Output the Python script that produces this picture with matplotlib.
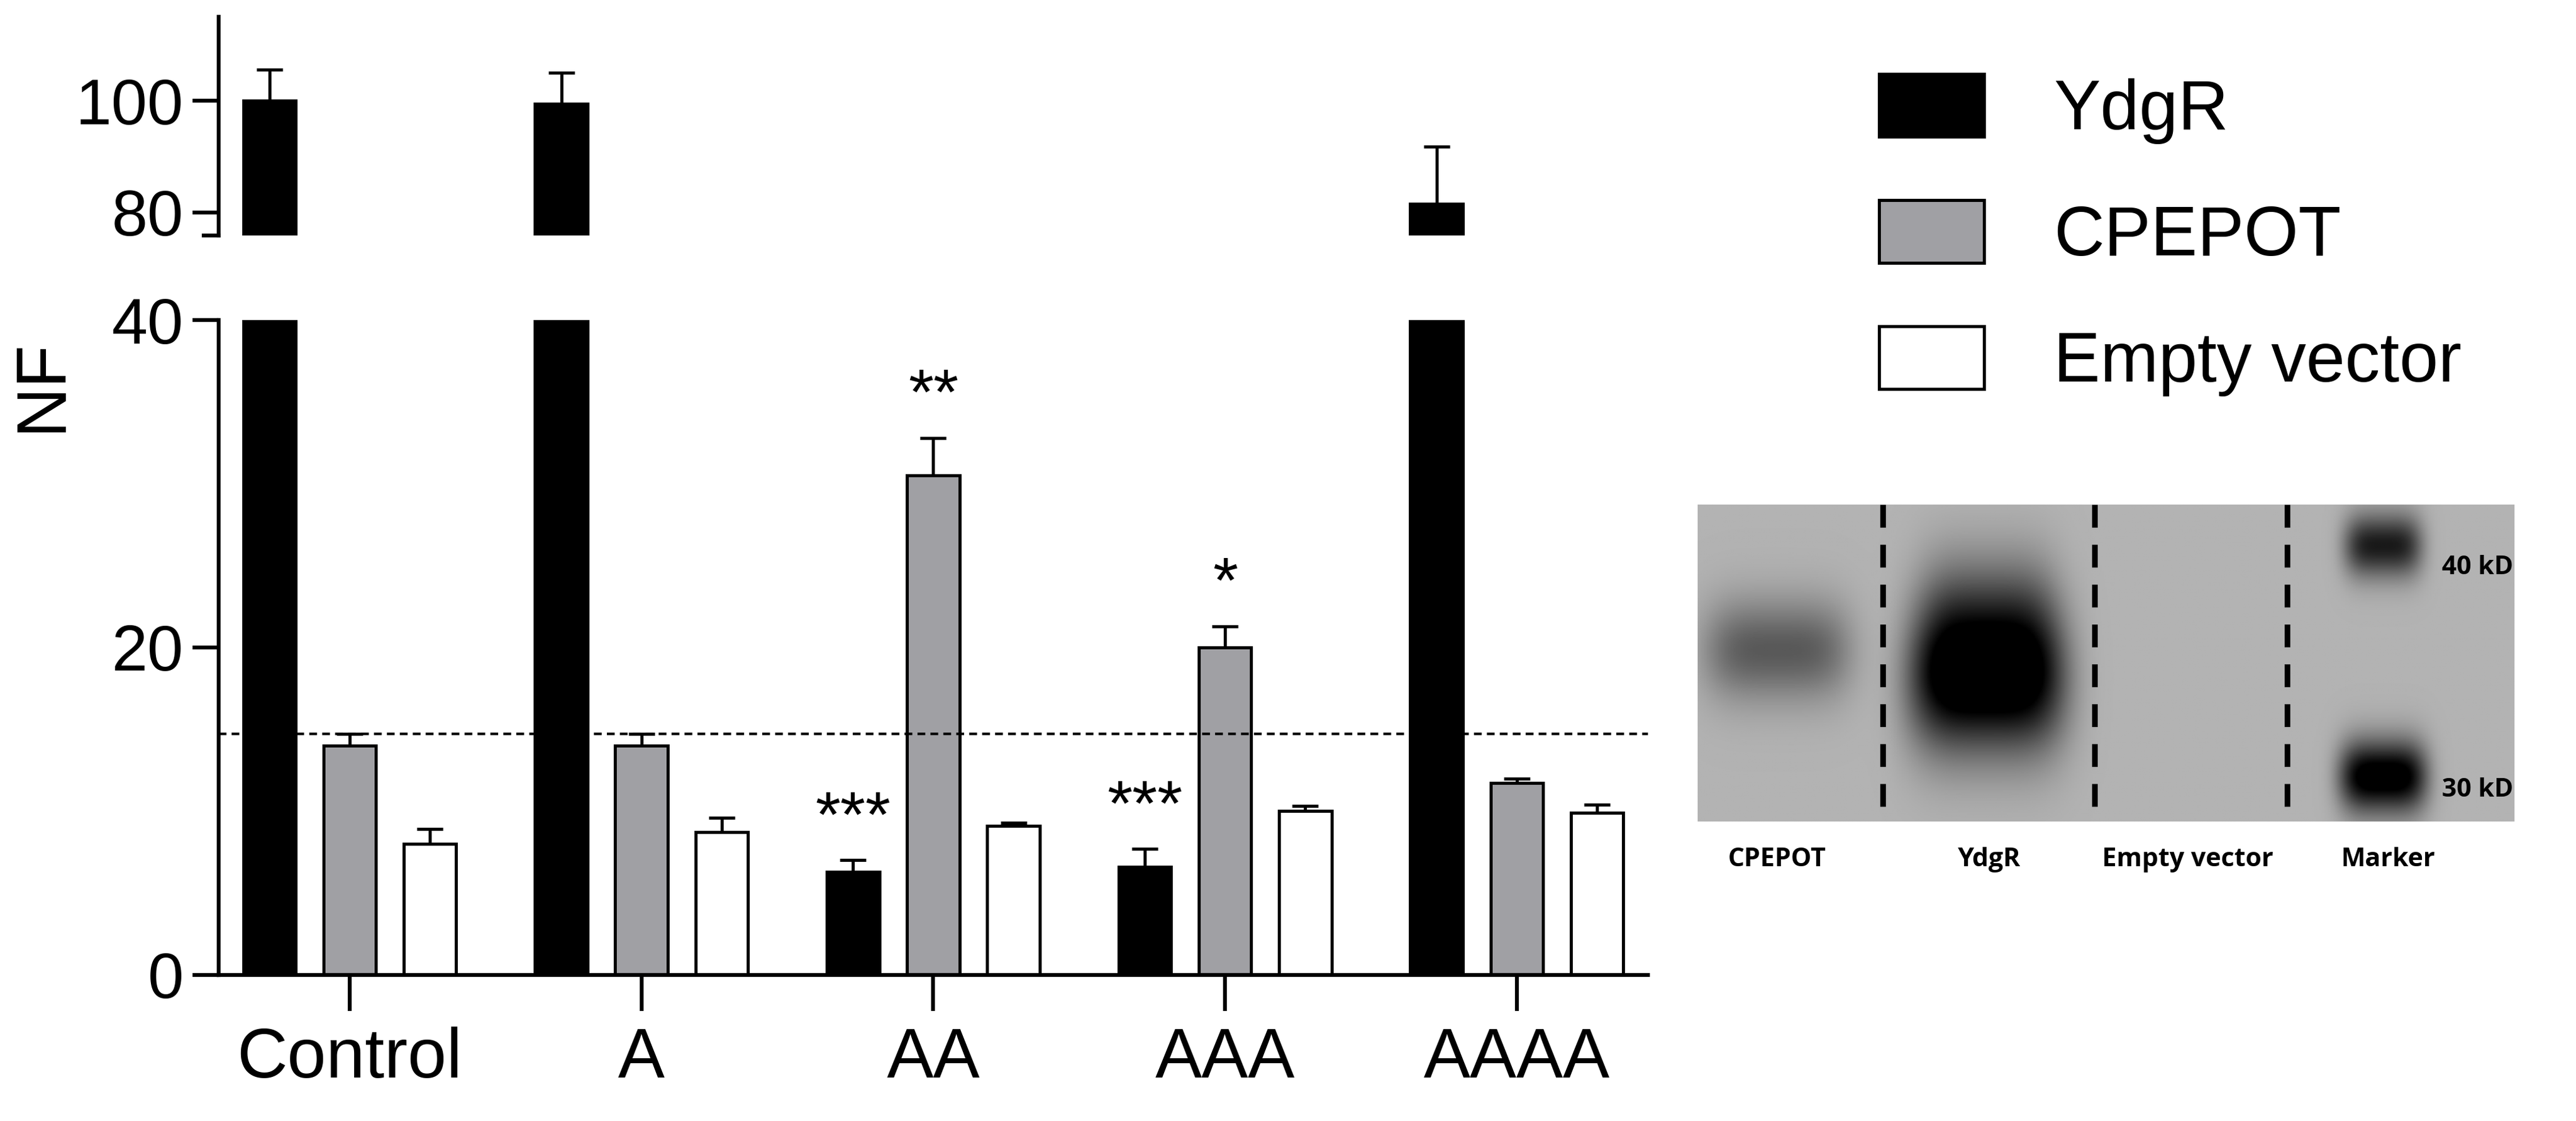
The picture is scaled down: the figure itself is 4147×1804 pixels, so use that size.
import numpy as np
import matplotlib.pyplot as plt
from matplotlib.patches import Patch

plt.rcParams["font.family"] = ["Liberation Sans", "DejaVu Sans"]

groups = ["Control", "A", "AA", "AAA", "AAAA"]
series = ["YdgR", "CPEPOT", "Empty vector"]
colors = ["black", "#a0a0a4", "white"]
ydgr = [100, 99.5, 6.3, 6.6, 81.5]
ydgr_err = [5.6, 5.5, 0.7, 1.1, 10.3]
cpepot = [14.0, 14.0, 30.5, 20.0, 11.7]
cpepot_err = [0.7, 0.7, 2.3, 1.3, 0.3]
empty = [8.0, 8.7, 9.1, 10.0, 9.9]
empty_err = [0.9, 0.9, 0.2, 0.3, 0.5]
threshold = 14.7
# (group index, series index, text)
stars = [(2, 0, "***"), (2, 1, "**"), (3, 0, "***"), (3, 1, "*")]

values = [ydgr, cpepot, empty]
errors = [ydgr_err, cpepot_err, empty_err]

fig = plt.figure(figsize=(4147 / 300, 1804 / 300), dpi=300)
ax_top = fig.add_axes([0.0848, 0.790, 0.555, 0.195])
ax_bot = fig.add_axes([0.0848, 0.1305, 0.555, 0.584])

x = np.arange(len(groups))
w = 0.18
offsets = [-0.275, 0, 0.275]
for ax in (ax_top, ax_bot):
    for vals, errs, c, off in zip(values, errors, colors, offsets):
        ax.bar(x + off, vals, w, color=c, edgecolor="black", linewidth=1.2,
               yerr=[np.zeros(len(errs)), errs], capsize=5,
               error_kw=dict(elinewidth=1.2, capthick=1.2))
    ax.set_xlim(-0.45, 4.45)
    for s in ("top", "right"):
        ax.spines[s].set_visible(False)
    ax.spines["left"].set_linewidth(1.5)
    ax.tick_params(axis="y", labelsize=25, width=1.5, length=10)

ax_top.set_ylim(75.9, 115)
ax_top.set_yticks([80, 100])
ax_top.spines["bottom"].set_visible(False)
ax_top.set_xticks([])
ax_top.plot([-0.5, -0.45], [75.9, 75.9], color="black", lw=1.5, clip_on=False)

ax_bot.set_ylim(0, 40)
ax_bot.set_yticks([0, 20, 40])
ax_bot.set_xticks(x)
ax_bot.set_xticklabels(groups, fontsize=27)
ax_bot.tick_params(axis="x", width=1.5, length=14, pad=6)
ax_bot.spines["bottom"].set_linewidth(1.5)
ax_bot.set_ylabel("NF", fontsize=27, labelpad=8)
ax_bot.yaxis.set_label_coords(-0.1, 0.9)
ax_bot.axhline(threshold, color="black", ls=(0, (3, 2)), lw=1.0)

for gi, si, txt in stars:
    top = values[si][gi] + errors[si][gi]
    ax_bot.text(x[gi] + offsets[si], top + 0.6, txt, ha="center", va="bottom",
                fontsize=25)

handles = [Patch(facecolor=c, edgecolor="black", linewidth=1.2) for c in colors]
fig.legend(handles, series, loc="upper left", bbox_to_anchor=(0.705, 0.99),
           frameon=False, fontsize=27, handlelength=1.5, handleheight=1.0,
           labelspacing=0.8, handletextpad=1.0)

# western blot panel
ax_b = fig.add_axes([0.659, 0.267, 0.317, 0.283])
yy, xx = np.mgrid[0:1:300j, 0:1:520j]
img = np.full(xx.shape, 0.70)
bands = [(0.097, 0.46, 0.075, 0.11, 0.35), (0.354, 0.55, 0.08, 0.16, 0.85),
         (0.355, 0.33, 0.07, 0.14, 0.25), (0.84, 0.13, 0.04, 0.07, 0.6),
         (0.84, 0.86, 0.045, 0.08, 0.8)]
for cx, cy, sx, sy, amp in bands:
    img -= amp * np.exp(-(((xx - cx) / sx) ** 4 + ((yy - cy) / sy) ** 2) / 2)
img = np.clip(img, 0, 1)
ax_b.imshow(img, cmap="gray", vmin=0, vmax=1, extent=[0, 1, 1, 0], aspect="auto")
for dx in [0.227, 0.486, 0.722]:
    ax_b.plot([dx, dx], [0, 1], color="black", lw=2.2, ls=(0, (4, 3)))
ax_b.set_xlim(0, 1)
ax_b.set_ylim(1, 0)
ax_b.axis("off")
ax_b.text(0.955, 0.2, "40 kD", ha="center", va="center", fontsize=10,
          fontweight="bold", family=["Open Sans", "DejaVu Sans"])
ax_b.text(0.955, 0.9, "30 kD", ha="center", va="center", fontsize=10,
          fontweight="bold", family=["Open Sans", "DejaVu Sans"])
lanes = ["CPEPOT", "YdgR", "Empty vector", "Marker"]
lane_x = [0.097, 0.357, 0.6, 0.845]
for lx, lab in zip(lane_x, lanes):
    ax_b.text(lx, 1.12, lab, ha="center", va="center", fontsize=10,
              fontweight="bold", family=["Open Sans", "DejaVu Sans"])

fig.savefig("out.png", dpi=300)
